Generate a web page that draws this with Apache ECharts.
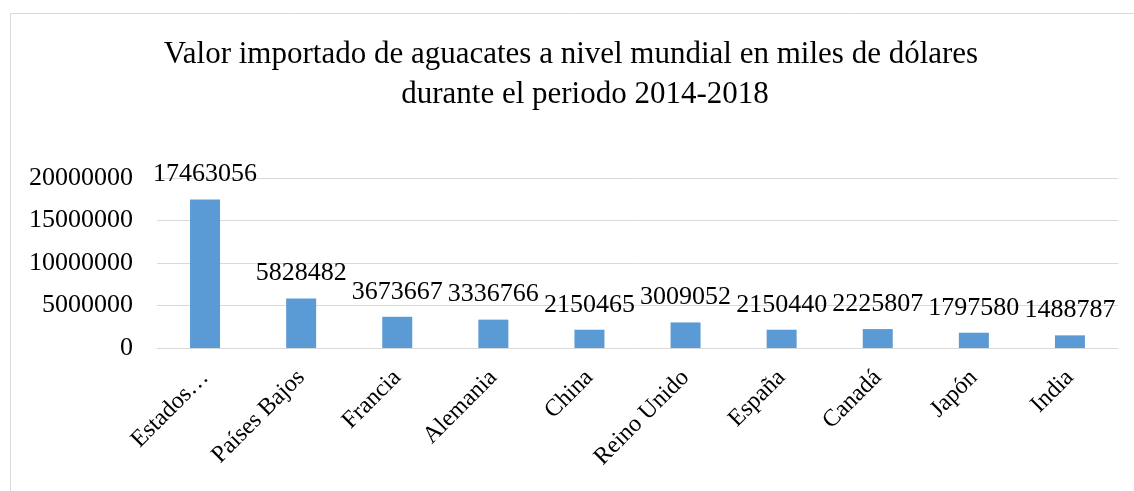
<!DOCTYPE html>
<html>
<head>
<meta charset="utf-8">
<script src="https://cdn.jsdelivr.net/npm/echarts@6/dist/echarts.min.js"></script>
<style>
	html, body { margin: 0; padding: 0; background: #fff; }
	#chart-box { width: 1134px; height: 491px; }
</style>
</head>
<body>
<div id="chart-box"></div>
<script>
var countries = ["Estados Unidos", "Países Bajos", "Francia", "Alemania", "China", "Reino Unido", "España", "Canadá", "Japón", "India"];
var importValues = [17463056, 5828482, 3673667, 3336766, 2150465, 3009052, 2150440, 2225807, 1797580, 1488787];
var yTicks = [0, 5000000, 10000000, 15000000, 20000000];
var titleLines = ["Valor importado de aguacates a nivel mundial en miles de dólares", "durante el periodo 2014-2018"];

var serif = "'Liberation Serif', 'DejaVu Serif', serif";
var titleStyle = {
	fontFamily: serif,
	fontSize: 31,
	fontWeight: "normal",
	color: "#000"
};
var chart = echarts.init(document.getElementById("chart-box"));
var option = {
	animation: false,
	title: [
		{
			text: titleLines[0],
			left: 566,
			top: 34,
			textAlign: "center",
			textStyle: titleStyle
		},
		{
			text: titleLines[1],
			left: 580,
			top: 74,
			textAlign: "center",
			textStyle: titleStyle
		}
	],
	graphic: [
		{
			type: "rect",
			shape: { x: 10.5, y: 13.5, width: 1200, height: 600 },
			style: { fill: "none", stroke: "#d9d9d9", lineWidth: 1 },
			silent: true
		}
	],
	grid: {
		left: 157,
		right: 16,
		top: 178,
		bottom: 143,
		containLabel: false
	},
	xAxis: [
		{
			type: "category",
			data: countries,
			axisLine: { show: true, lineStyle: { color: "#d9d9d9", width: 1 } },
			axisTick: { show: false },
			axisLabel: {
				interval: 0,
				rotate: 45,
				margin: 26,
				fontFamily: serif,
				fontSize: 24,
				color: "#000",
				formatter: function (v) {
					return v === "Estados Unidos" ? "Estados…" : v;
				}
			}
		}
	],
	yAxis: [
		{
			type: "value",
			min: yTicks[0],
			max: yTicks[yTicks.length - 1],
			interval: yTicks[1] - yTicks[0],
			axisLine: { show: false },
			axisTick: { show: false },
			splitLine: { show: true, lineStyle: { color: "#d9d9d9", width: 1 } },
			axisLabel: {
				margin: 24,
				fontFamily: serif,
				fontSize: 26,
				color: "#000",
				formatter: function (v) {
					return String(v);
				}
			}
		}
	],
	series: [
		{
			type: "bar",
			data: importValues,
			barWidth: 30,
			itemStyle: { color: "#5b9bd5" },
			label: {
				show: true,
				position: "top",
				distance: 12,
				fontFamily: serif,
				fontSize: 26,
				color: "#000"
			}
		}
	]
};
chart.setOption(option);
</script>
</body>
</html>
